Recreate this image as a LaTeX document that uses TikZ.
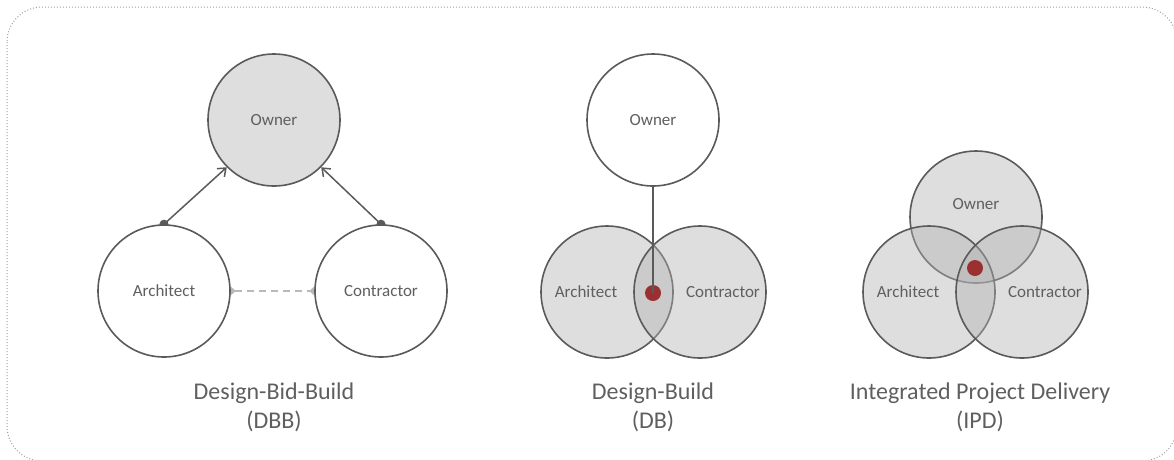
\documentclass[tikz,border=0pt]{standalone}
\usepackage{fontspec}
\setmainfont{Carlito}
\usepackage{xcolor}
\usepackage{tikz}
\usetikzlibrary{arrows.meta,positioning,backgrounds}
\definecolor{edgegray}{RGB}{90,90,90}
\definecolor{textgray}{RGB}{95,95,95}
\definecolor{lightfill}{RGB}{222,222,222}
\definecolor{venngray}{RGB}{176,176,176}
\definecolor{dashgray}{RGB}{185,185,185}
\definecolor{dotred}{RGB}{155,48,48}
\definecolor{framegray}{RGB}{160,160,160}

\begin{document}
\begin{tikzpicture}[
    x=1pt, y=-1pt,
    party/.style={draw=edgegray, line width=1.6pt, circle, minimum size=132pt, inner sep=0pt,
        font=\fontsize{17}{20}\selectfont, text=textgray},
    venn/.style={party, fill=venngray, fill opacity=0.42, text opacity=1},
    deliverydot/.style={circle, fill=dotred, minimum size=16pt, inner sep=0pt},
    caption/.style={align=center, font=\fontsize{24}{29}\selectfont, text=textgray, anchor=base},
    report/.style={draw=edgegray, line width=1.5pt, shorten <=-4.5pt,
        {Circle[length=9pt]}-{Straight Barb[length=7pt,width=11pt]}}
]
\useasboundingbox (0,0) rectangle (1174,459);

% Frame
\draw[framegray, dotted, line width=1pt, rounded corners=35pt] (7,7) rectangle (1177,461);

% Design-Bid-Build
\node[party, fill=lightfill] (dbbowner) at (274,120) {Owner};
\node[party, fill=white] (dbbarch) at (164,291) {Architect};
\node[party, fill=white] (dbbcon) at (381,291) {Contractor};
\begin{pgfonlayer}{background}
\draw[report] (dbbarch.north) -- (dbbowner.south west);
\draw[report] (dbbcon.north) -- (dbbowner.south east);
\draw[dashgray, line width=1.5pt, dash pattern=on 7pt off 5pt, shorten <=-5pt, shorten >=-5pt,
    {Diamond[length=10pt,width=9pt]}-{Diamond[length=10pt,width=9pt]}] (dbbarch.east) -- (dbbcon.west);
\end{pgfonlayer}
\node[caption] (dbbtitle) at (274,428) {Design-Bid-Build\\(DBB)};

% Design-Build
\node[party, fill=white] (dbowner) at (653,120) {Owner};
\node[venn] (dbarch) at (607,292) {\hspace*{-42pt}Architect};
\node[venn] (dbcon) at (700,292) {\hspace*{46pt}Contractor};
\node[deliverydot] (dbdot) at (653,293) {};
\draw[edgegray, line width=1.5pt] (dbowner.south) -- (dbdot.center);
\node[caption] (dbtitle) at (653,428) {Design-Build\\(DB)};

% Integrated Project Delivery
\node[venn] (ipdowner) at (976,217) {\raisebox{8pt}[0pt][0pt]{Owner}};
\node[venn] (ipdarch) at (929,292) {\hspace*{-42pt}Architect};
\node[venn] (ipdcon) at (1022,292) {\hspace*{46pt}Contractor};
\node[deliverydot] (ipddot) at (975,268) {};
\node[caption] (ipdtitle) at (980,428) {Integrated Project Delivery\\(IPD)};

\end{tikzpicture}
\end{document}
